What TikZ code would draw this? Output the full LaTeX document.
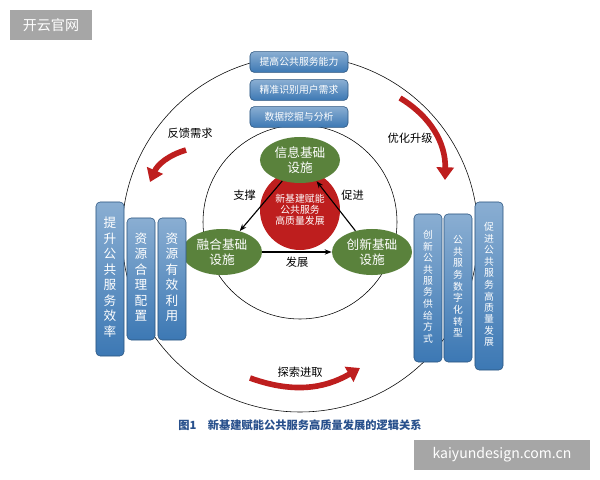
\documentclass[tikz,border=0pt]{standalone}
\usepackage{fontspec}
\setmainfont{Noto Sans CJK SC}
\usetikzlibrary{shapes.geometric, arrows.meta, positioning}
\definecolor{barblue}{RGB}{60,120,180}
\definecolor{leafgreen}{RGB}{90,130,60}
\definecolor{corered}{RGB}{190,30,30}
\definecolor{capblue}{RGB}{40,80,140}
\tikzset{
	bar/.style={draw=barblue!70!black, rounded corners=3pt, top color=barblue!60, bottom color=barblue, text=white, font=\scriptsize, align=center, inner sep=0pt},
	base/.style={ellipse, fill=leafgreen, text=white, font=\small, align=center, minimum width=2cm, minimum height=1.15cm, inner sep=0pt},
	edge/.style={-{Stealth[length=5pt]}, thick}
}
\newcommand{\vtext}[1]{\begin{tabular}{@{}c@{}}#1\end{tabular}}
\begin{document}
\begin{tikzpicture}[x=0.025cm, y=-0.025cm]
	\useasboundingbox[fill=white] (0,0) rectangle (600,480);
	
	\node[fill=gray!70, text=white, minimum width=2.05cm, minimum height=0.75cm] (logo) at (51,25) {开云官网};
	\node[fill=gray!70, text=white, minimum width=4.4cm, minimum height=0.75cm] (site) at (502,455) {kaiyundesign.com.cn};
	
	\draw[thin] (300,234) circle (178);
	\draw[thin] (300,222) circle (97);
	
	\node[circle, fill=corered, text=white, font=\scriptsize, align=center, minimum size=2cm, inner sep=0pt] (core) at (300,210) {新基建赋能\\公共服务\\高质量发展};
	\node[base] (info) at (300,160) {信息基础\\设施};
	\node[base] (fuse) at (222,252) {融合基础\\设施};
	\node[base] (inno) at (372,252) {创新基础\\设施};
	
	\draw[edge] (info) -- (fuse) node[midway, above left, font=\footnotesize] {支撑};
	\draw[edge] (fuse) -- (inno) node[midway, below, font=\footnotesize] {发展};
	\draw[edge] (inno) -- (info) node[midway, above right, font=\footnotesize] {促进};
	
	\node[bar, minimum width=2.45cm, minimum height=0.52cm] (t1) at (299,62) {提高公共服务能力};
	\node[bar, minimum width=2.45cm, minimum height=0.52cm] (t2) at (299,90) {精准识别用户需求};
	\node[bar, minimum width=2.45cm, minimum height=0.52cm] (t3) at (299,117) {数据挖掘与分析};
	
	\node[bar, font=\small, minimum width=0.7cm, minimum height=3.85cm] (l1) at (110,279) {\vtext{提\\升\\公\\共\\服\\务\\效\\率}};
	\node[bar, font=\small, minimum width=0.7cm, minimum height=3.05cm] (l2) at (141,279) {\vtext{资\\源\\合\\理\\配\\置}};
	\node[bar, font=\small, minimum width=0.7cm, minimum height=3.05cm] (l3) at (172,279) {\vtext{资\\源\\有\\效\\利\\用}};
	
	\node[bar, minimum width=0.7cm, minimum height=3.7cm] (r1) at (428,288) {\vtext{创\\新\\公\\共\\服\\务\\供\\给\\方\\式}};
	\node[bar, minimum width=0.7cm, minimum height=3.7cm] (r2) at (458,288) {\vtext{公\\共\\服\\务\\数\\字\\化\\转\\型}};
	\node[bar, minimum width=0.7cm, minimum height=4.2cm] (r3) at (489,286) {\vtext{促\\进\\公\\共\\服\\务\\高\\质\\量\\发\\展}};
	
	\coordinate (la) at (186,150);
	\coordinate (lb) at (150,182);
	\coordinate (ra) at (400,98);
	\coordinate (rb) at (445,180);
	\coordinate (ba) at (250,378);
	\coordinate (bb) at (360,368);
	\draw[corered, line width=4pt, -{Triangle[length=9pt, width=12pt]}] (la) to[bend right=25] (lb);
	\draw[corered, line width=4pt, -{Triangle[length=9pt, width=12pt]}] (ra) to[bend left=30] (rb);
	\draw[corered, line width=4pt, -{Triangle[length=9pt, width=12pt]}] (ba) to[bend right=25] (bb);
	\node[font=\footnotesize] (fb) at (190,133) {反馈需求};
	\node[font=\footnotesize] (up) at (410,138) {优化升级};
	\node[font=\footnotesize] (ex) at (300,372) {探索进取};
	
	\node[font=\footnotesize\bfseries, text=capblue] (cap) at (300,425) {图1\quad 新基建赋能公共服务高质量发展的逻辑关系};
\end{tikzpicture}
\end{document}
